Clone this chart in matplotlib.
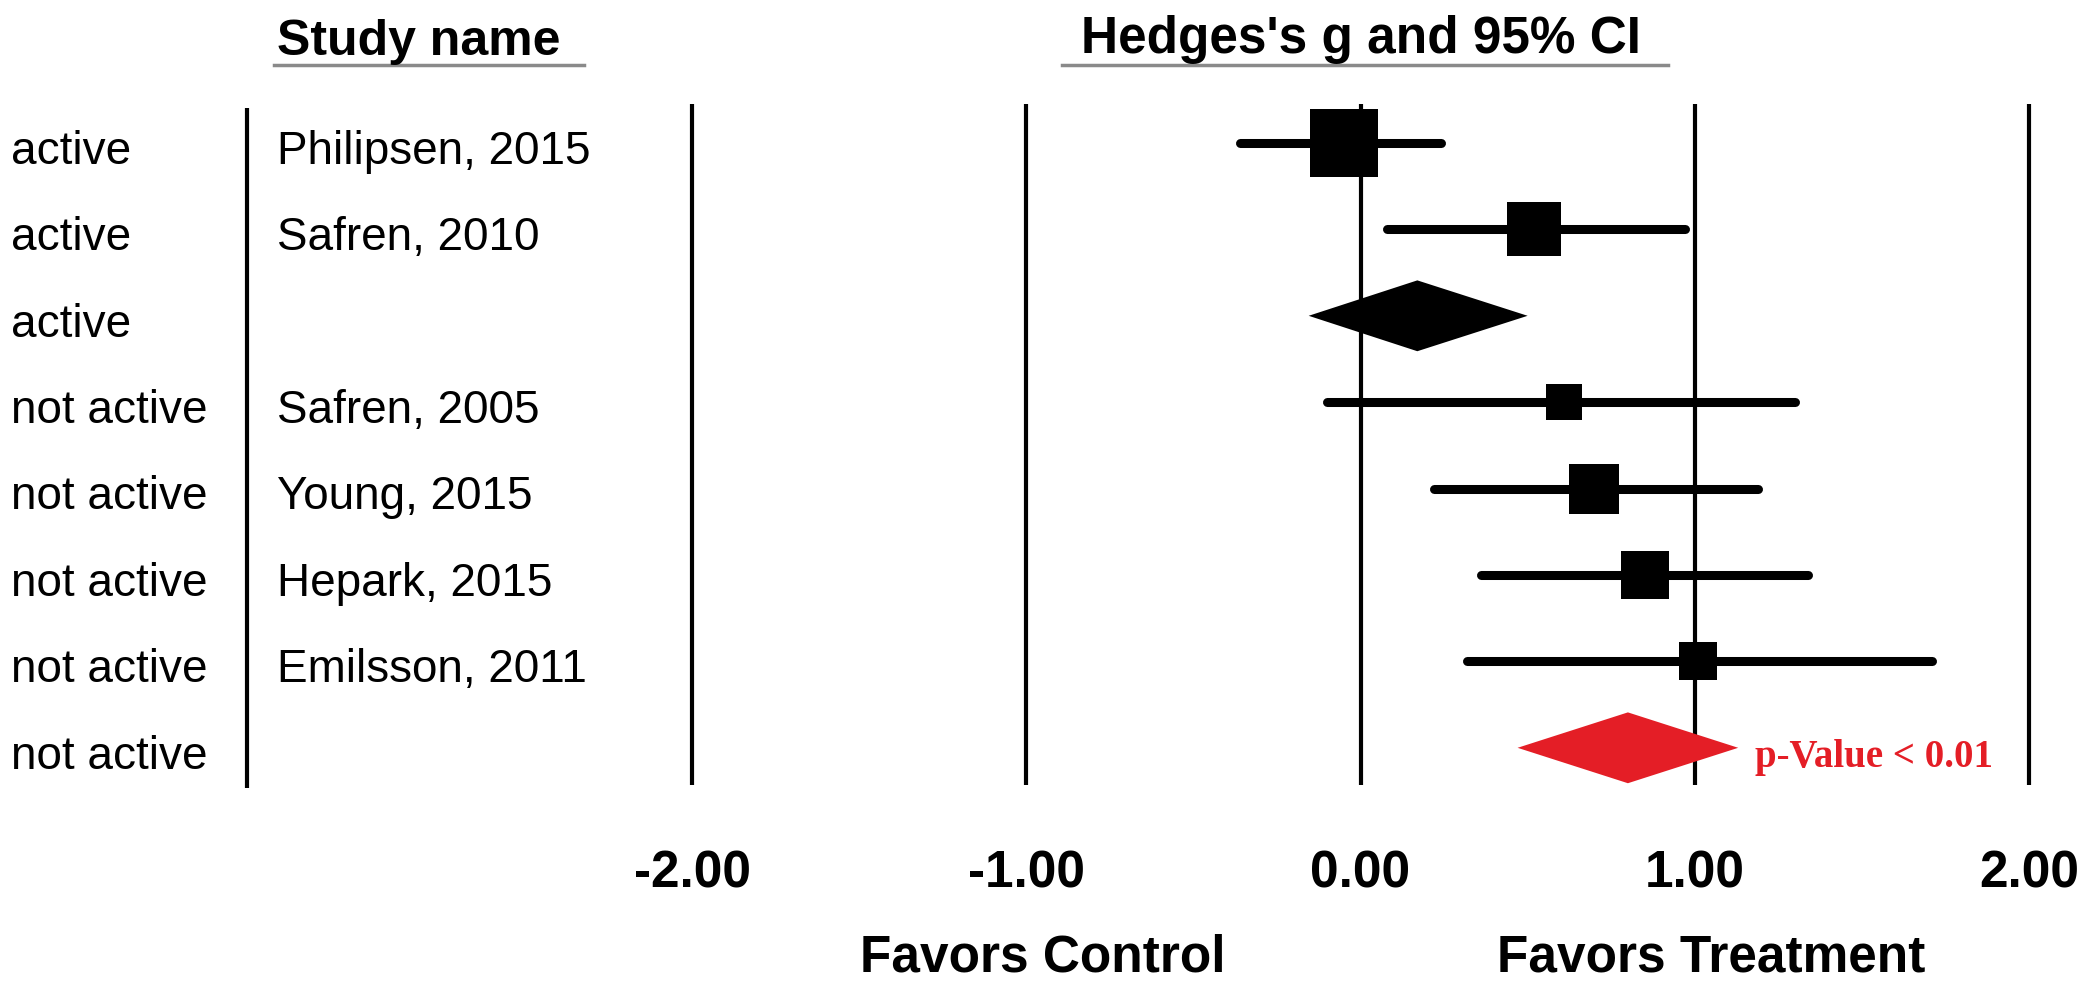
import numpy as np
import matplotlib
matplotlib.use("Agg")
import matplotlib.pyplot as plt

# study-level effect sizes (Hedges's g) with 95% CI
groups = ["active", "active", "active",
          "not active", "not active", "not active", "not active", "not active"]
studies = ["Philipsen, 2015", "Safren, 2010", "Safren, 2005",
           "Young, 2015", "Hepark, 2015", "Emilsson, 2011"]
study_rows = [0, 1, 3, 4, 5, 6]
g = [-0.05, 0.52, 0.61, 0.70, 0.85, 1.01]
ci_lo = [-0.36, 0.08, -0.10, 0.22, 0.36, 0.32]
ci_hi = [0.24, 0.97, 1.30, 1.19, 1.34, 1.71]
weights = [31.2, 19.7, 8.3, 16.2, 15.5, 9.2]

# subgroup pooled estimates
summary_rows = [2, 7]
summary_g = [0.17, 0.80]
summary_lo = [-0.155, 0.47]
summary_hi = [0.50, 1.13]
summary_colors = ["black", "#e41e26"]
p_text = "p-Value < 0.01"

ticks = [-2, -1, 0, 1, 2]
tick_labels = ["-2.00", "-1.00", "0.00", "1.00", "2.00"]

W, H = 2095, 983
fig = plt.figure(figsize=(W / 100, H / 100), dpi=100)
ax = fig.add_axes([0, 0, 1, 1])
ax.set_axis_off()

# pixel layout -> data limits
x_m2, x_p2 = 692, 2029
unit = (x_p2 - x_m2) / 4.0
ax.set_xlim(-2 - x_m2 / unit, 2 + (W - x_p2) / unit)
row0, row_h = 143, 86.4
ax.set_ylim((H - row0) / row_h, -row0 / row_h)

def px_row(py):
    return (py - row0) / row_h

def px_x(px):
    return -2 + (px - x_m2) / unit

sans = "Liberation Sans"

# reference lines
for t in ticks:
    ax.plot([t, t], [px_row(104), px_row(785)], color="black", lw=3.0,
            solid_capstyle="butt", zorder=1)

# separator between subgroup and study name columns
sep_x = px_x(247)
ax.plot([sep_x, sep_x], [px_row(108), px_row(788)], color="black", lw=3.0,
        solid_capstyle="butt", zorder=1)

# CI bars and weighted squares
px_per_pt = 100 / 72
for r, est, lo, hi, w in zip(study_rows, g, ci_lo, ci_hi, weights):
    ax.plot([lo, hi], [r, r], color="black", lw=6.5, solid_capstyle="round", zorder=2)
    side = 12.2 * np.sqrt(w) / px_per_pt
    ax.plot(est, r, marker="s", ms=side, color="black", mew=0, zorder=3)

# pooled diamonds
half_h = 0.41
for r, est, lo, hi, c in zip(summary_rows, summary_g, summary_lo, summary_hi, summary_colors):
    ax.fill([lo, est, hi, est], [r, r - half_h, r, r + half_h], color=c, lw=0, zorder=3)

ax.text(summary_hi[1] + 0.05, px_row(767), p_text, color="#e41e26",
        family="Liberation Serif", weight="bold", fontsize=28,
        ha="left", va="baseline")

# left-hand columns
for r, grp in enumerate(groups):
    ax.text(px_x(11), r + 0.24, grp, family=sans, fontsize=33,
            ha="left", va="baseline")
for r, name in zip(study_rows, studies):
    ax.text(px_x(277), r + 0.24, name, family=sans, fontsize=33,
            ha="left", va="baseline")

# column headers with underlines
ax.text(px_x(277), px_row(55), "Study name", family=sans, weight="bold",
        fontsize=36, ha="left", va="baseline")
ax.plot([px_x(274), px_x(584)], [px_row(65)] * 2, color="#8a8a8a", lw=2.5)
ax.text(0, px_row(53), "Hedges's g and 95% CI", family=sans, weight="bold",
        fontsize=37, ha="center", va="baseline")
ax.plot([px_x(1062), px_x(1668)], [px_row(65)] * 2, color="#8a8a8a", lw=2.5)

# x tick labels
for t, lab in zip(ticks, tick_labels):
    ax.text(t, px_row(887), lab, family=sans, weight="bold", fontsize=37,
            ha="center", va="baseline")

ax.text(-0.95, px_row(971), "Favors Control", family=sans, weight="bold",
        fontsize=37, ha="center", va="baseline")
ax.text(1.05, px_row(971), "Favors Treatment", family=sans, weight="bold",
        fontsize=37, ha="center", va="baseline")

fig.savefig("out.png", dpi=100)
